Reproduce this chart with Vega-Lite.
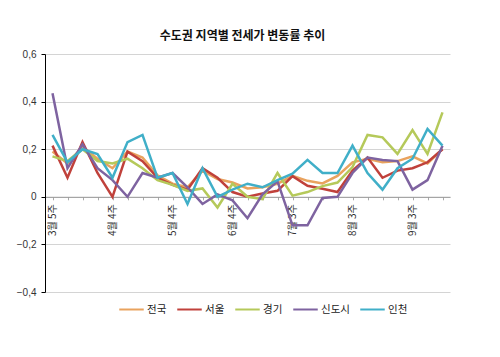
{
  "$schema": "https://vega.github.io/schema/vega-lite/v6.json",
  "width": 405,
  "height": 238,
  "autosize": {"type": "none"},
  "padding": {"left": 45, "top": 54, "right": 50, "bottom": 65},
  "background": "white",
  "title": {"text": "수도권 지역별 전세가 변동률 추이", "font": "Noto Sans CJK KR", "fontSize": 12, "fontWeight": "bold", "color": "#111111", "offset": 6, "anchor": "middle", "dx": -5},
  "data": {"values": [
    {"week":"3월 5주","region":"전국","value":0.19},{"week":"4월 1주","region":"전국","value":0.14},{"week":"4월 2주","region":"전국","value":0.21},{"week":"4월 3주","region":"전국","value":0.16},{"week":"4월 4주","region":"전국","value":0.12},{"week":"5월 1주","region":"전국","value":0.19},{"week":"5월 2주","region":"전국","value":0.165},{"week":"5월 3주","region":"전국","value":0.09},{"week":"5월 4주","region":"전국","value":0.055},{"week":"6월 1주","region":"전국","value":0.04},{"week":"6월 2주","region":"전국","value":0.11},{"week":"6월 3주","region":"전국","value":0.075},{"week":"6월 4주","region":"전국","value":0.06},{"week":"6월 5주","region":"전국","value":0.035},{"week":"7월 1주","region":"전국","value":0.04},{"week":"7월 2주","region":"전국","value":0.055},{"week":"7월 3주","region":"전국","value":0.088},{"week":"7월 4주","region":"전국","value":0.067},{"week":"8월 1주","region":"전국","value":0.056},{"week":"8월 2주","region":"전국","value":0.088},{"week":"8월 3주","region":"전국","value":0.145},{"week":"8월 4주","region":"전국","value":0.16},{"week":"9월 1주","region":"전국","value":0.145},{"week":"9월 2주","region":"전국","value":0.15},{"week":"9월 3주","region":"전국","value":0.17},{"week":"9월 4주","region":"전국","value":0.14},{"week":"10월 1주","region":"전국","value":0.2},
    {"week":"3월 5주","region":"서울","value":0.215},{"week":"4월 1주","region":"서울","value":0.08},{"week":"4월 2주","region":"서울","value":0.23},{"week":"4월 3주","region":"서울","value":0.1},{"week":"4월 4주","region":"서울","value":0.0},{"week":"5월 1주","region":"서울","value":0.19},{"week":"5월 2주","region":"서울","value":0.15},{"week":"5월 3주","region":"서울","value":0.08},{"week":"5월 4주","region":"서울","value":0.05},{"week":"6월 1주","region":"서울","value":0.03},{"week":"6월 2주","region":"서울","value":0.12},{"week":"6월 3주","region":"서울","value":0.08},{"week":"6월 4주","region":"서울","value":0.02},{"week":"6월 5주","region":"서울","value":0.0},{"week":"7월 1주","region":"서울","value":0.014},{"week":"7월 2주","region":"서울","value":0.025},{"week":"7월 3주","region":"서울","value":0.087},{"week":"7월 4주","region":"서울","value":0.046},{"week":"8월 1주","region":"서울","value":0.034},{"week":"8월 2주","region":"서울","value":0.02},{"week":"8월 3주","region":"서울","value":0.11},{"week":"8월 4주","region":"서울","value":0.165},{"week":"9월 1주","region":"서울","value":0.08},{"week":"9월 2주","region":"서울","value":0.11},{"week":"9월 3주","region":"서울","value":0.12},{"week":"9월 4주","region":"서울","value":0.145},{"week":"10월 1주","region":"서울","value":0.2},
    {"week":"3월 5주","region":"경기","value":0.17},{"week":"4월 1주","region":"경기","value":0.15},{"week":"4월 2주","region":"경기","value":0.2},{"week":"4월 3주","region":"경기","value":0.15},{"week":"4월 4주","region":"경기","value":0.14},{"week":"5월 1주","region":"경기","value":0.16},{"week":"5월 2주","region":"경기","value":0.12},{"week":"5월 3주","region":"경기","value":0.07},{"week":"5월 4주","region":"경기","value":0.05},{"week":"6월 1주","region":"경기","value":0.025},{"week":"6월 2주","region":"경기","value":0.035},{"week":"6월 3주","region":"경기","value":-0.045},{"week":"6월 4주","region":"경기","value":0.055},{"week":"6월 5주","region":"경기","value":0.0},{"week":"7월 1주","region":"경기","value":-0.01},{"week":"7월 2주","region":"경기","value":0.1},{"week":"7월 3주","region":"경기","value":0.005},{"week":"7월 4주","region":"경기","value":0.02},{"week":"8월 1주","region":"경기","value":0.045},{"week":"8월 2주","region":"경기","value":0.06},{"week":"8월 3주","region":"경기","value":0.125},{"week":"8월 4주","region":"경기","value":0.26},{"week":"9월 1주","region":"경기","value":0.25},{"week":"9월 2주","region":"경기","value":0.18},{"week":"9월 3주","region":"경기","value":0.28},{"week":"9월 4주","region":"경기","value":0.18},{"week":"10월 1주","region":"경기","value":0.355},
    {"week":"3월 5주","region":"신도시","value":0.435},{"week":"4월 1주","region":"신도시","value":0.12},{"week":"4월 2주","region":"신도시","value":0.22},{"week":"4월 3주","region":"신도시","value":0.12},{"week":"4월 4주","region":"신도시","value":0.07},{"week":"5월 1주","region":"신도시","value":0.0},{"week":"5월 2주","region":"신도시","value":0.1},{"week":"5월 3주","region":"신도시","value":0.08},{"week":"5월 4주","region":"신도시","value":0.1},{"week":"6월 1주","region":"신도시","value":0.04},{"week":"6월 2주","region":"신도시","value":-0.03},{"week":"6월 3주","region":"신도시","value":0.01},{"week":"6월 4주","region":"신도시","value":-0.015},{"week":"6월 5주","region":"신도시","value":-0.09},{"week":"7월 1주","region":"신도시","value":0.01},{"week":"7월 2주","region":"신도시","value":0.065},{"week":"7월 3주","region":"신도시","value":-0.12},{"week":"7월 4주","region":"신도시","value":-0.12},{"week":"8월 1주","region":"신도시","value":-0.005},{"week":"8월 2주","region":"신도시","value":0.0},{"week":"8월 3주","region":"신도시","value":0.1},{"week":"8월 4주","region":"신도시","value":0.165},{"week":"9월 1주","region":"신도시","value":0.155},{"week":"9월 2주","region":"신도시","value":0.15},{"week":"9월 3주","region":"신도시","value":0.03},{"week":"9월 4주","region":"신도시","value":0.07},{"week":"10월 1주","region":"신도시","value":0.215},
    {"week":"3월 5주","region":"인천","value":0.26},{"week":"4월 1주","region":"인천","value":0.145},{"week":"4월 2주","region":"인천","value":0.2},{"week":"4월 3주","region":"인천","value":0.18},{"week":"4월 4주","region":"인천","value":0.08},{"week":"5월 1주","region":"인천","value":0.23},{"week":"5월 2주","region":"인천","value":0.26},{"week":"5월 3주","region":"인천","value":0.08},{"week":"5월 4주","region":"인천","value":0.1},{"week":"6월 1주","region":"인천","value":-0.03},{"week":"6월 2주","region":"인천","value":0.12},{"week":"6월 3주","region":"인천","value":0.0},{"week":"6월 4주","region":"인천","value":0.03},{"week":"6월 5주","region":"인천","value":0.055},{"week":"7월 1주","region":"인천","value":0.04},{"week":"7월 2주","region":"인천","value":0.07},{"week":"7월 3주","region":"인천","value":0.097},{"week":"7월 4주","region":"인천","value":0.155},{"week":"8월 1주","region":"인천","value":0.1},{"week":"8월 2주","region":"인천","value":0.1},{"week":"8월 3주","region":"인천","value":0.215},{"week":"8월 4주","region":"인천","value":0.1},{"week":"9월 1주","region":"인천","value":0.03},{"week":"9월 2주","region":"인천","value":0.12},{"week":"9월 3주","region":"인천","value":0.16},{"week":"9월 4주","region":"인천","value":0.285},{"week":"10월 1주","region":"인천","value":0.215}
  ]},
  "mark": {"type": "line", "strokeWidth": 2.5, "strokeJoin": "miter"},
  "encoding": {
    "x": {
      "field": "week", "type": "ordinal", "sort": null,
      "axis": {
        "title": null, "offset": -95.2, "labelAngle": -90, "grid": false,
        "labelExpr": "indexof(['3월 5주','4월 4주','5월 4주','6월 4주','7월 3주','8월 3주','9월 3주'], datum.value) >= 0 ? datum.value : ''",
        "domainColor": "#999999", "tickColor": "#aaaaaa", "tickSize": 3,
        "labelFont": "Noto Sans CJK KR", "labelFontSize": 10, "labelColor": "#333333", "labelPadding": 4
      }
    },
    "y": {
      "field": "value", "type": "quantitative",
      "scale": {"domain": [-0.4, 0.6], "nice": false, "zero": false},
      "axis": {
        "title": null, "values": [-0.4, -0.2, 0, 0.2, 0.4, 0.6],
        "labelExpr": "datum.value == 0 ? '0' : replace(format(datum.value, '.1f'), '.', ',')",
        "domainColor": "#000000", "tickColor": "#000000", "tickSize": 4,
        "gridColor": "#d4d4d4", "labelFont": "Liberation Sans", "labelFontSize": 10, "labelColor": "#333333", "labelPadding": 5
      }
    },
    "color": {
      "field": "region", "type": "nominal",
      "scale": {"domain": ["전국", "서울", "경기", "신도시", "인천"], "range": ["#E9A35E", "#C0413B", "#B5C95A", "#7E63A0", "#40AFC8"]},
      "legend": {
        "orient": "none", "legendX": 73, "legendY": 242, "direction": "horizontal", "title": null,
        "symbolType": "stroke", "symbolSize": 600, "symbolStrokeWidth": 2, "labelOffset": 2,
        "labelFont": "Noto Sans CJK KR", "labelFontSize": 10.5, "labelColor": "#222222", "columnPadding": 6
      }
    }
  },
  "config": {"view": {"stroke": null}}
}
